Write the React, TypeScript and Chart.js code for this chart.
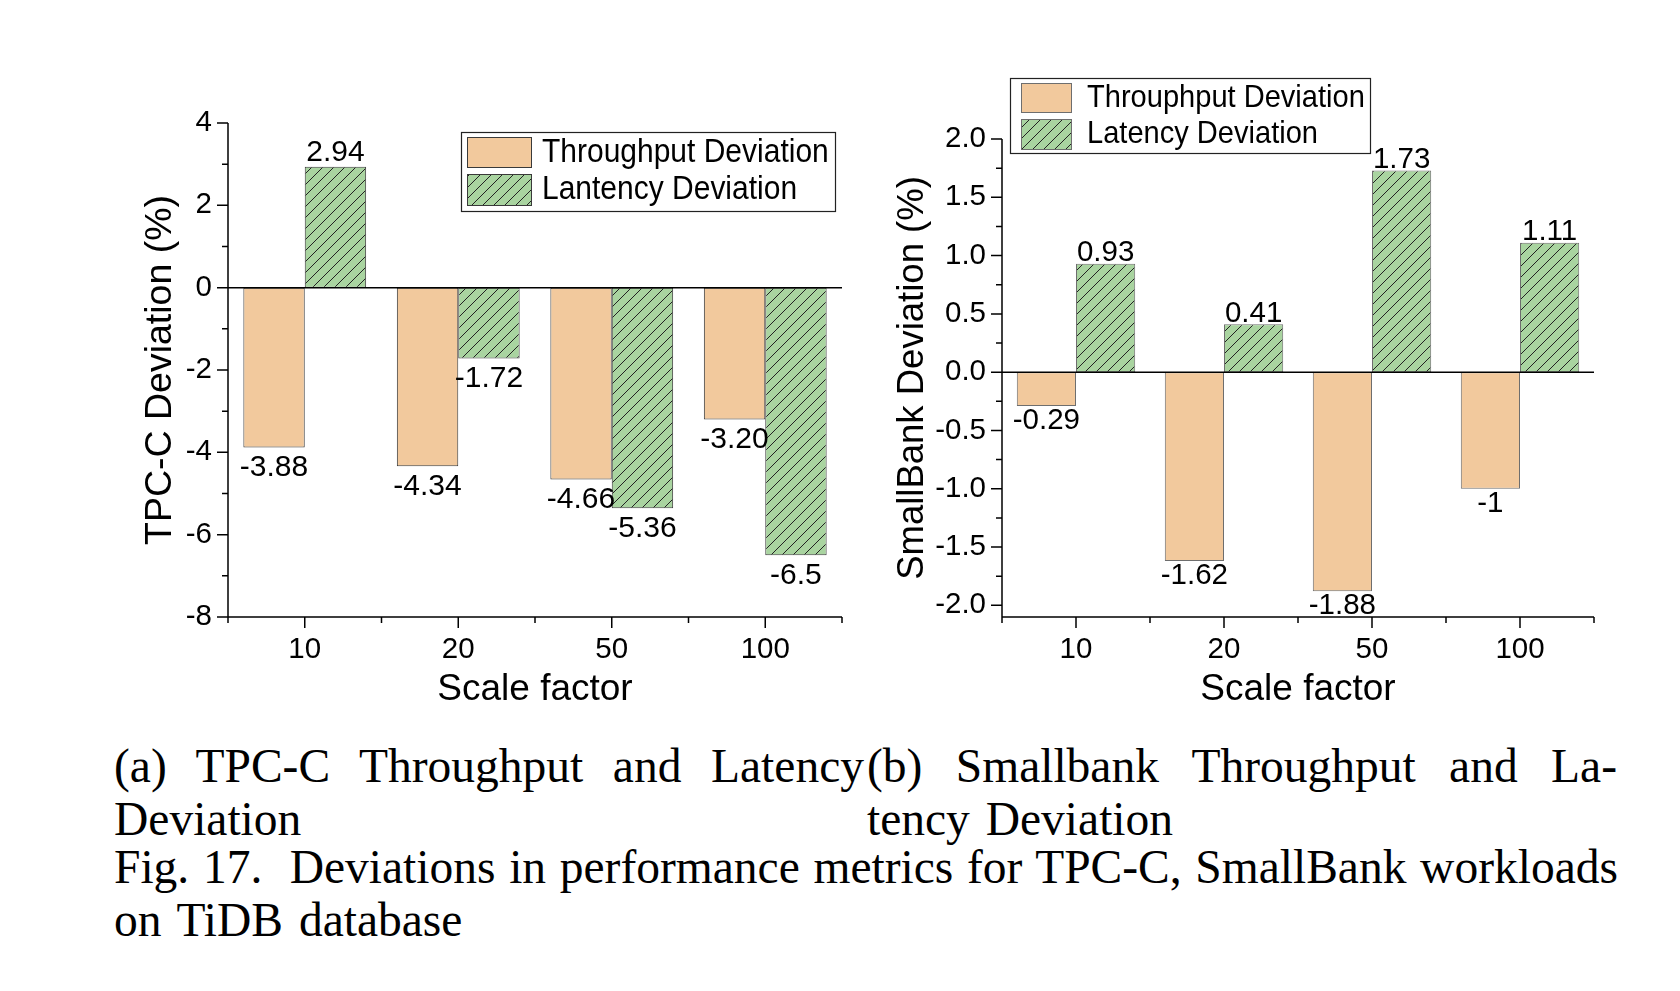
import React, { useEffect, useRef } from "react";
import { Chart, registerables } from "chart.js";

Chart.register(...registerables);

// ---------- data ----------
const scaleFactors = ["10", "20", "50", "100"];

const tpccThroughput = [-3.88, -4.34, -4.66, -3.2];
const tpccLatency = [2.94, -1.72, -5.36, -6.5];
const tpccThroughputText = ["-3.88", "-4.34", "-4.66", "-3.20"];
const tpccLatencyText = ["2.94", "-1.72", "-5.36", "-6.5"];
const tpccMajorTicks = [-8, -6, -4, -2, 0, 2, 4];
const tpccMinorTicks = [-7, -5, -3, -1, 1, 3];

const sbThroughput = [-0.29, -1.62, -1.88, -1];
const sbLatency = [0.93, 0.41, 1.73, 1.11];
const sbThroughputText = ["-0.29", "-1.62", "-1.88", "-1"];
const sbLatencyText = ["0.93", "0.41", "1.73", "1.11"];
const sbMajorTicks = [-2, -1.5, -1, -0.5, 0, 0.5, 1, 1.5, 2];
const sbMinorTicks = [-1.75, -1.25, -0.75, -0.25, 0.25, 0.75, 1.25, 1.75];

// ---------- styles ----------
const ORANGE = "#F2C99D";
const GREEN = "#A9D4A0";
const SANS = "'Liberation Sans', Arial, Helvetica, sans-serif";
const SERIF = "'Liberation Serif', 'Times New Roman', Times, serif";

type Panel = {
  left: number; top: number; width: number; height: number;
  padTop: number; padRight: number; yAxisWidth: number; xAxisHeight: number;
  yTitlePad: number; yTitleSize: number; labelSize: number;
  yMin: number; yMax: number; decimals: number;
  major: number[]; minor: number[];
  yTitle: string;
  names: string[];
  series: number[][];
  texts: string[][];
  borderColor: string;
  offUp: number; offDown: number;
  legend: {
    x: number; y: number; w: number; h: number;
    swX: number; swW: number; swY: number[]; swH: number[];
    textX: number; rowY: number[]; size: number; sx: number;
  };
};

const panels: Panel[] = [
  {
    left: 100, top: 60, width: 760, height: 660,
    padTop: 63, padRight: 18, yAxisWidth: 128, xAxisHeight: 103,
    yTitlePad: 38.5, yTitleSize: 37.5, labelSize: 30,
    yMin: -8, yMax: 4, decimals: 0,
    major: tpccMajorTicks, minor: tpccMinorTicks,
    yTitle: "TPC-C Deviation (%)",
    names: ["Throughput Deviation", "Lantency Deviation"],
    series: [tpccThroughput, tpccLatency],
    texts: [tpccThroughputText, tpccLatencyText],
    borderColor: "#3a3a3a",
    offUp: 14, offDown: 20,
    legend: {
      x: 461, y: 132, w: 374, h: 79,
      swX: 467, swW: 65, swY: [137, 174], swH: [31, 32],
      textX: 542, rowY: [152.5, 190], size: 34, sx: 0.882,
    },
  },
  {
    left: 880, top: 60, width: 730, height: 660,
    padTop: 79, padRight: 16, yAxisWidth: 122, xAxisHeight: 103,
    yTitlePad: 11, yTitleSize: 36.5, labelSize: 29.5,
    yMin: -2.1, yMax: 2.0, decimals: 1,
    major: sbMajorTicks, minor: sbMinorTicks,
    yTitle: "SmallBank Deviation (%)",
    names: ["Throuphput Deviation", "Latency Deviation"],
    series: [sbThroughput, sbLatency],
    texts: [sbThroughputText, sbLatencyText],
    borderColor: "#6e6e6e",
    offUp: 11, offDown: 15,
    legend: {
      x: 1010, y: 78, w: 360, h: 75,
      swX: 1021, swW: 51, swY: [83, 119], swH: [30, 31],
      textX: 1087, rowY: [98, 134.5], size: 32, sx: 0.908,
    },
  },
];

function makeHatch(bg: string, line: string, s: number): CanvasPattern | string {
  const c = document.createElement("canvas");
  c.width = s;
  c.height = s;
  const ctx = c.getContext("2d");
  if (!ctx) return bg;
  ctx.fillStyle = bg;
  ctx.fillRect(0, 0, s, s);
  ctx.strokeStyle = line;
  ctx.lineWidth = 1;
  ctx.beginPath();
  ctx.moveTo(0, s);
  ctx.lineTo(s, 0);
  ctx.moveTo(-2, 2);
  ctx.lineTo(2, -2);
  ctx.moveTo(s - 2, s + 2);
  ctx.lineTo(s + 2, s - 2);
  ctx.stroke();
  const pat = ctx.createPattern(c, "repeat");
  return pat || bg;
}

function ChartPanel({ p }: { p: Panel }) {
  const ref = useRef<HTMLCanvasElement | null>(null);

  useEffect(() => {
    const canvas = ref.current;
    if (!canvas) return;
    const hatch = makeHatch(GREEN, "#222", 11);
    const fills = [ORANGE, hatch];

    const decor = {
      id: "decor",
      afterDatasetsDraw(chart: any) {
        const { ctx, chartArea: a, scales } = chart;
        const xs = scales.x;
        const ys = scales.y;
        ctx.save();
        ctx.strokeStyle = "#000";
        ctx.lineWidth = 1.5;
        ctx.beginPath();
        ctx.moveTo(a.left, a.top);
        ctx.lineTo(a.left, a.bottom);
        ctx.moveTo(a.left, a.bottom);
        ctx.lineTo(a.right, a.bottom);
        const y0 = ys.getPixelForValue(0);
        ctx.moveTo(a.left, y0);
        ctx.lineTo(a.right, y0);
        p.major.forEach((v) => {
          const y = ys.getPixelForValue(v);
          ctx.moveTo(a.left - 11, y);
          ctx.lineTo(a.left, y);
        });
        p.minor.forEach((v) => {
          const y = ys.getPixelForValue(v);
          ctx.moveTo(a.left - 6, y);
          ctx.lineTo(a.left, y);
        });
        const n = chart.data.labels.length;
        const step = n > 1 ? xs.getPixelForValue(1) - xs.getPixelForValue(0) : a.right - a.left;
        for (let i = 0; i < n; i++) {
          const x = xs.getPixelForValue(i);
          ctx.moveTo(x, a.bottom);
          ctx.lineTo(x, a.bottom + 11);
        }
        for (let i = 0; i <= n; i++) {
          const x = xs.getPixelForValue(0) - step / 2 + i * step;
          ctx.moveTo(x, a.bottom);
          ctx.lineTo(x, a.bottom + 6);
        }
        ctx.stroke();

        ctx.fillStyle = "#000";
        ctx.font = `${p.labelSize}px ${SANS}`;
        ctx.textAlign = "center";
        ctx.textBaseline = "middle";
        chart.data.datasets.forEach((ds: any, di: number) => {
          const meta = chart.getDatasetMeta(di);
          meta.data.forEach((el: any, i: number) => {
            const v = ds.data[i];
            const y = v >= 0 ? el.y - p.offUp : el.y + p.offDown;
            ctx.fillText(p.texts[di][i], el.x, y);
          });
        });
        ctx.restore();
      },
      afterDraw(chart: any) {
        const { ctx } = chart;
        const L = p.legend;
        const ox = p.left;
        const oy = p.top;
        ctx.save();
        ctx.fillStyle = "#fff";
        ctx.fillRect(L.x - ox, L.y - oy, L.w, L.h);
        ctx.strokeStyle = "#222";
        ctx.lineWidth = 1.2;
        ctx.strokeRect(L.x - ox + 0.5, L.y - oy + 0.5, L.w, L.h);
        for (let i = 0; i < 2; i++) {
          ctx.fillStyle = fills[i];
          ctx.fillRect(L.swX - ox, L.swY[i] - oy, L.swW, L.swH[i]);
          ctx.strokeStyle = p.borderColor;
          ctx.lineWidth = 1;
          ctx.strokeRect(L.swX - ox + 0.5, L.swY[i] - oy + 0.5, L.swW - 1, L.swH[i] - 1);
          ctx.save();
          ctx.translate(L.textX - ox, L.rowY[i] - oy);
          ctx.scale(L.sx, 1);
          ctx.fillStyle = "#000";
          ctx.font = `${L.size}px ${SANS}`;
          ctx.textAlign = "left";
          ctx.textBaseline = "middle";
          ctx.fillText(p.names[i], 0, 0);
          ctx.restore();
        }
        ctx.restore();
      },
    };

    const chart = new Chart(canvas, {
      type: "bar",
      data: {
        labels: scaleFactors,
        datasets: p.series.map((s, i) => ({
          label: p.names[i],
          data: s,
          backgroundColor: fills[i] as any,
          borderColor: p.borderColor,
          borderWidth: 1,
          borderSkipped: false,
          categoryPercentage: 0.8,
          barPercentage: 1.0,
        })),
      },
      options: {
        animation: false,
        responsive: false,
        devicePixelRatio: 1,
        events: [],
        layout: { padding: { left: 0, right: p.padRight, top: p.padTop, bottom: 0 } },
        plugins: { legend: { display: false }, tooltip: { enabled: false } },
        scales: {
          x: {
            grid: { display: false, drawTicks: false },
            border: { display: false },
            ticks: {
              color: "#000",
              font: { family: SANS, size: 29.5 },
              padding: 15,
              maxRotation: 0,
              autoSkip: false,
            },
            title: {
              display: true,
              text: "Scale factor",
              color: "#000",
              font: { family: SANS, size: 37 },
              padding: { top: 0, bottom: 8 },
            },
            afterFit: (s: any) => {
              s.height = p.xAxisHeight;
            },
          },
          y: {
            min: p.yMin,
            max: p.yMax,
            grid: { display: false, drawTicks: false },
            border: { display: false },
            afterBuildTicks: (s: any) => {
              s.ticks = p.major.map((v) => ({ value: v }));
            },
            ticks: {
              color: "#000",
              font: { family: SANS, size: 29.5 },
              padding: 16,
              autoSkip: false,
              callback: (v: any) => Number(v).toFixed(p.decimals),
            },
            title: {
              display: true,
              text: p.yTitle,
              color: "#000",
              font: { family: SANS, size: p.yTitleSize },
              padding: { top: p.yTitlePad, bottom: 0 },
            },
            afterFit: (s: any) => {
              s.width = p.yAxisWidth;
            },
          },
        },
      },
      plugins: [decor],
    } as any);

    return () => chart.destroy();
  }, [p]);

  return (
    <canvas
      ref={ref}
      width={p.width}
      height={p.height}
      style={{
        position: "absolute",
        left: p.left,
        top: p.top,
        width: p.width,
        height: p.height,
      }}
    />
  );
}

const capStyle: React.CSSProperties = {
  position: "absolute",
  fontFamily: SERIF,
  fontSize: 47.5,
  lineHeight: "50px",
  color: "#000",
  margin: 0,
  whiteSpace: "normal",
  wordSpacing: 4,
};

const justified: React.CSSProperties = {
  textAlign: "justify",
  textAlignLast: "justify" as any,
  wordSpacing: 0,
};

export default function App() {
  return (
    <div
      style={{
        position: "absolute",
        left: 0,
        top: 0,
        width: 1680,
        height: 991,
        background: "#fff",
        overflow: "hidden",
      }}
    >
      {panels.map((p, i) => (
        <ChartPanel key={i} p={p} />
      ))}
      <div style={{ ...capStyle, ...justified, left: 114, top: 741, width: 750 }}>
        (a) TPC-C Throughput and Latency
      </div>
      <div style={{ ...capStyle, left: 114, top: 794, width: 750 }}>Deviation</div>
      <div style={{ ...capStyle, ...justified, left: 867, top: 741, width: 750 }}>
        (b) Smallbank Throughput and La-
      </div>
      <div style={{ ...capStyle, left: 867, top: 794, width: 750 }}>tency Deviation</div>
      <div style={{ ...capStyle, ...justified, left: 114, top: 842, width: 1504 }}>
        Fig. 17.{"\u00a0"} Deviations in performance metrics for TPC-C, SmallBank workloads
      </div>
      <div style={{ ...capStyle, left: 114, top: 895, width: 1504 }}>on TiDB database</div>
    </div>
  );
}
